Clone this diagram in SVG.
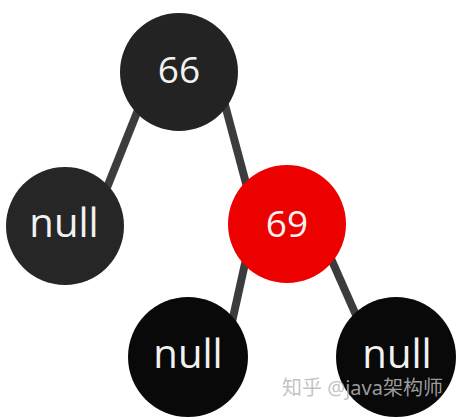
<svg xmlns="http://www.w3.org/2000/svg" width="463" height="420" viewBox="0 0 463 420">
<style>
.edge{stroke:#3c3c3c;stroke-width:8;stroke-linecap:butt;fill:none}
.lbl{font-family:"Open Sans","Noto Sans","DejaVu Sans",sans-serif;fill:#f2f2f2;text-anchor:middle}
.num{font-size:37px}
.nul{font-size:40px}
.wm{font-family:"Noto Sans","Noto Sans CJK SC",sans-serif;font-size:20px;fill:#b8b8b8;fill-opacity:0.85}
</style>
<rect width="463" height="420" fill="#ffffff"/>
<g id="connectors">
<line class="edge" x1="146" y1="90" x2="102" y2="200"/>
<line class="edge" x1="221" y1="90" x2="251" y2="202"/>
<line class="edge" x1="248" y1="250" x2="228" y2="340"/>
<line class="edge" x1="325" y1="245" x2="367" y2="340"/>
</g>
<g id="n66">
<circle cx="179" cy="72" r="59" fill="#232323"/>
<text class="lbl num" x="179" y="83">66</text>
</g>
<g id="nullL">
<circle cx="65" cy="226" r="59" fill="#262626"/>
<text class="lbl nul" x="64" y="237">null</text>
</g>
<g id="n69">
<circle cx="287" cy="224" r="59" fill="#ec0000"/>
<text class="lbl num" x="287" y="237">69</text>
</g>
<g id="nullBL">
<circle cx="188" cy="357" r="60" fill="#090909"/>
<text class="lbl nul" x="188" y="368">null</text>
</g>
<g id="nullBR">
<circle cx="396" cy="357" r="60" fill="#090909"/>
<text class="lbl nul" x="397" y="368">null</text>
</g>
<text class="wm" x="282" y="395">知乎 @java架构师</text>
</svg>
